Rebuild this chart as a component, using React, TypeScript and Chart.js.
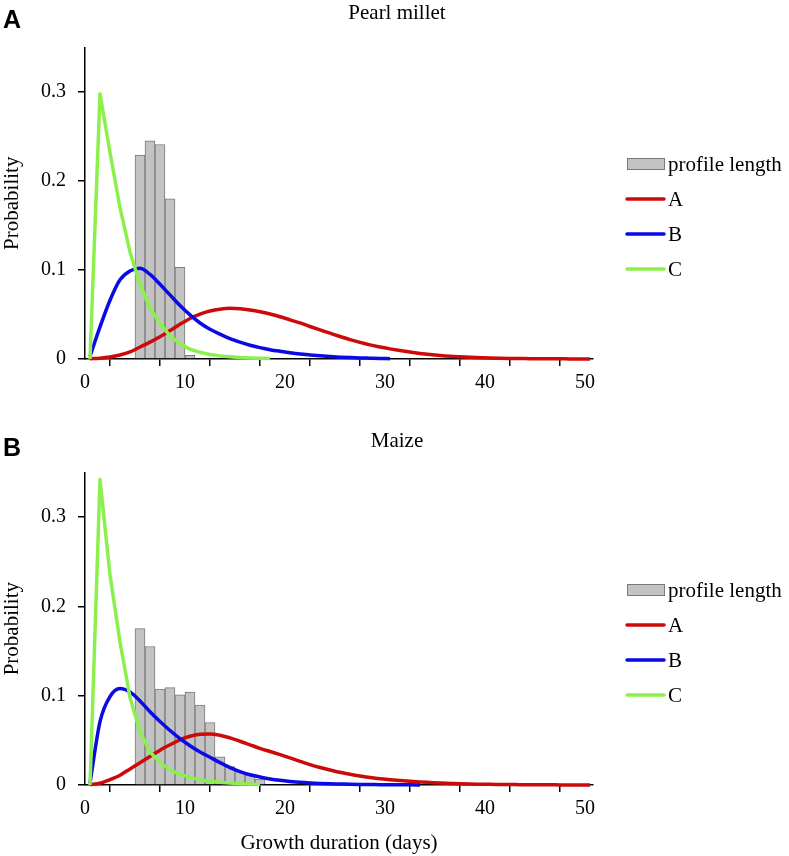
import React, { useEffect, useRef } from 'react';
import { Chart, registerables } from 'chart.js';

Chart.register(...registerables);

// ---------- data ----------
const DURATION_DAYS = [
  0.5, 1.5, 2.5, 3.5, 4.5, 5.5, 6.5, 7.5, 8.5, 9.5,
  10.5, 11.5, 12.5, 13.5, 14.5, 15.5, 16.5, 17.5, 18.5, 19.5,
  20.5, 21.5, 22.5, 23.5, 24.5, 25.5, 26.5, 27.5, 28.5, 29.5,
  30.5, 31.5, 32.5, 33.5, 34.5, 35.5, 36.5, 37.5, 38.5, 39.5,
  40.5, 41.5, 42.5, 43.5, 44.5, 45.5, 46.5, 47.5, 48.5, 49.5, 50.5,
];

const SERIES_LABELS = ['profile length', 'A', 'B', 'C'];
const Y_TICK_LABELS = ['0', '0.1', '0.2', '0.3'];
const X_TICK_LABELS = ['0', '10', '20', '30', '40', '50'];

// Pearl millet
const MILLET_BINS = [5.5, 6.5, 7.5, 8.5, 9.5, 10.5];
const MILLET_PROFILE = [0.229, 0.245, 0.241, 0.18, 0.103, 0.004];
const MILLET_A = [
  0.0003, 0.0009, 0.0022, 0.0045, 0.008, 0.0135, 0.019, 0.025, 0.032, 0.039,
  0.0455, 0.0505, 0.054, 0.056, 0.057, 0.0565, 0.055, 0.053, 0.0505, 0.0475,
  0.044, 0.0405, 0.0365, 0.0327, 0.029, 0.0253, 0.0218, 0.0187, 0.0159, 0.0135,
  0.0114, 0.0095, 0.0078, 0.0063, 0.005, 0.0039, 0.003, 0.0024, 0.0019, 0.0015,
  0.0011, 0.0008, 0.0006, 0.0005, 0.0004, 0.0003, 0.0002, 0.0002, 0.0001, 0.0001, 0.0001,
];
const MILLET_B = [
  0.003, 0.036, 0.066, 0.089, 0.099, 0.102, 0.095, 0.084, 0.072, 0.06,
  0.0495, 0.0405, 0.0335, 0.028, 0.023, 0.019, 0.0155, 0.0128, 0.0105, 0.0087,
  0.0071, 0.0057, 0.0046, 0.0036, 0.0028, 0.0021, 0.0016, 0.0012, 0.0009, 0.0006, 0.0004,
];
const MILLET_C = [
  0, 0.298, 0.232, 0.17, 0.12, 0.084, 0.057, 0.04, 0.026, 0.017,
  0.011, 0.0075, 0.005, 0.0035, 0.0025, 0.0017, 0.0012, 0.0008, 0.0005,
];

// Maize
const MAIZE_BINS = [5.5, 6.5, 7.5, 8.5, 9.5, 10.5, 11.5, 12.5, 13.5, 14.5, 15.5, 16.5, 17.5];
const MAIZE_PROFILE = [0.175, 0.155, 0.1075, 0.109, 0.101, 0.104, 0.0895, 0.07, 0.0315, 0.0206, 0.015, 0.011, 0.0065];
const MAIZE_A = [
  0.0005, 0.002, 0.006, 0.011, 0.018, 0.025, 0.032, 0.039, 0.045, 0.0505,
  0.0545, 0.0568, 0.0572, 0.0557, 0.0527, 0.049, 0.045, 0.041, 0.0375, 0.034,
  0.0303, 0.0265, 0.0228, 0.0196, 0.0168, 0.0142, 0.012, 0.0101, 0.0085, 0.0071,
  0.006, 0.005, 0.0041, 0.0034, 0.0028, 0.0022, 0.0018, 0.0014, 0.0011, 0.0009,
  0.0007, 0.0006, 0.0005, 0.0004, 0.0003, 0.0002, 0.0002, 0.0001, 0.0001, 0.0001, 0.0001,
];
const MAIZE_B = [
  0.002, 0.071, 0.099, 0.108, 0.104, 0.094, 0.082, 0.071, 0.061, 0.052,
  0.044, 0.037, 0.031, 0.025, 0.0195, 0.015, 0.0115, 0.009, 0.0068, 0.0052,
  0.004, 0.003, 0.0023, 0.0018, 0.0014, 0.0011, 0.0008, 0.0006, 0.0005, 0.0004,
  0.0003, 0.0002, 0.0002, 0.0001,
];
const MAIZE_C = [
  0, 0.342, 0.235, 0.16, 0.098, 0.06, 0.037, 0.025, 0.017, 0.012,
  0.0085, 0.006, 0.0042, 0.003, 0.0021, 0.0015, 0.001, 0.0007,
];

// ---------- styles ----------
const SERIF = "'Liberation Serif', 'Times New Roman', Times, serif";
const SANS = "'Liberation Sans', Arial, Helvetica, sans-serif";
const RED = '#cc0a0a';
const BLUE = '#0a0ae6';
const GREEN = '#8cf04c';
const BAR_FILL = '#c3c3c3';
const BAR_EDGE = '#7a7a7a';

const W = 789;
const H = 428;

type PanelProps = {
  letter: string;
  title: string;
  bins: number[];
  profile: number[];
  a: number[];
  b: number[];
  c: number[];
  padTop: number;
  xAxisHeight: number;
  showXTitle: boolean;
};

const toPoints = (vals: number[]) => vals.map((v, i) => ({ x: DURATION_DAYS[i], y: v }));

function Panel(props: PanelProps) {
  const ref = useRef<HTMLCanvasElement | null>(null);

  useEffect(() => {
    const canvas = ref.current;
    if (!canvas) return;

    const overlay = {
      id: 'overlay',
      afterDraw(chart: any) {
        const ctx = chart.ctx as CanvasRenderingContext2D;
        const area = chart.chartArea;
        ctx.save();
        ctx.fillStyle = '#000';
        // panel letter
        ctx.font = `bold 25px ${SANS}`;
        ctx.textAlign = 'left';
        ctx.textBaseline = 'alphabetic';
        ctx.fillText(props.letter, 3, 28);
        // panel title
        ctx.font = `21px ${SERIF}`;
        ctx.textAlign = 'center';
        ctx.fillText(props.title, 397, 19);
        // legend
        const ds = chart.data.datasets;
        const order = [3, 2, 1, 0]; // profile length, A, B, C
        const x0 = area.right + 34;
        const x1 = area.right + 72;
        let y = area.bottom - 195;
        ctx.font = `21px ${SERIF}`;
        ctx.textAlign = 'left';
        ctx.textBaseline = 'middle';
        for (const idx of order) {
          const d = ds[idx];
          if (d.type === 'bar') {
            ctx.fillStyle = d.backgroundColor;
            ctx.fillRect(x0, y - 6, x1 - x0, 12);
            ctx.strokeStyle = d.borderColor;
            ctx.lineWidth = 1;
            ctx.strokeRect(x0 + 0.5, y - 5.5, x1 - x0 - 1, 11);
          } else {
            ctx.strokeStyle = d.borderColor;
            ctx.lineWidth = 3.5;
            ctx.lineCap = 'round';
            ctx.beginPath();
            ctx.moveTo(x0, y);
            ctx.lineTo(x1 - 1, y);
            ctx.stroke();
          }
          ctx.fillStyle = '#000';
          ctx.fillText(d.label, x1 + 3, y + 1);
          y += 35;
        }
        ctx.restore();
      },
    };

    const lineDs = (label: string, vals: number[], color: string, smooth: boolean) =>
      ({
        type: 'line',
        label,
        data: toPoints(vals),
        borderColor: color,
        borderWidth: 3.5,
        borderJoinStyle: 'round',
        pointRadius: 0,
        tension: smooth ? 0.4 : 0,
        cubicInterpolationMode: smooth ? 'monotone' : 'default',
        fill: false,
        clip: false,
      }) as any;

    const chart = new Chart(canvas, {
      type: 'bar',
      data: {
        datasets: [
          lineDs(SERIES_LABELS[3], props.c, GREEN, false),
          lineDs(SERIES_LABELS[2], props.b, BLUE, true),
          lineDs(SERIES_LABELS[1], props.a, RED, true),
          {
            type: 'bar',
            label: SERIES_LABELS[0],
            data: props.bins.map((x, i) => ({ x, y: props.profile[i] })),
            backgroundColor: BAR_FILL,
            borderColor: BAR_EDGE,
            borderWidth: 1,
            barPercentage: 1,
            categoryPercentage: 1,
          } as any,
        ],
      },
      options: {
        responsive: false,
        animation: false,
        events: [],
        layout: { padding: { left: 0, right: W - 593, top: props.padTop, bottom: 0 } },
        plugins: {
          legend: { display: false },
          tooltip: { enabled: false },
          title: { display: false },
        },
        scales: {
          x: {
            type: 'linear',
            min: 0,
            max: 50.8,
            offset: false,
            grid: {
              display: true,
              drawOnChartArea: false,
              drawTicks: true,
              tickLength: 7,
              color: '#000',
              lineWidth: 1.5,
            },
            border: { display: true, color: '#000', width: 1.5 },
            ticks: {
              stepSize: 5,
              includeBounds: false,
              autoSkip: false,
              maxRotation: 0,
              padding: 5,
              color: '#000',
              font: { family: SERIF, size: 20 },
              callback: (v: any) => {
                const s = String(v);
                return X_TICK_LABELS.includes(s) ? s : '';
              },
            },
            title: {
              display: props.showXTitle,
              text: 'Growth duration (days)',
              color: '#000',
              font: { family: SERIF, size: 21 },
              padding: { top: 0, bottom: 0 },
            },
            afterFit: (s: any) => {
              s.height = props.xAxisHeight;
            },
          },
          y: {
            type: 'linear',
            min: 0,
            max: 0.35,
            grid: {
              display: true,
              drawOnChartArea: false,
              drawTicks: true,
              tickLength: 7,
              color: '#000',
              lineWidth: 1.5,
            },
            border: { display: true, color: '#000', width: 1.5 },
            ticks: {
              stepSize: 0.1,
              includeBounds: false,
              padding: 12,
              color: '#000',
              font: { family: SERIF, size: 20 },
              callback: (v: any) => Y_TICK_LABELS[Math.round(Number(v) * 10)] ?? '',
            },
            title: {
              display: true,
              text: 'Probability',
              color: '#000',
              font: { family: SERIF, size: 21 },
              padding: { top: 0, bottom: 0 },
            },
            afterFit: (s: any) => {
              s.width = 85;
            },
          },
        },
      } as any,
      plugins: [overlay],
    });

    return () => chart.destroy();
  }, []);

  return <canvas ref={ref} width={W} height={H} style={{ display: 'block', width: W, height: H }} />;
}

export default function App() {
  return (
    <div style={{ position: 'absolute', left: 0, top: 0, width: W, height: 856, background: '#fff' }}>
      <Panel
        letter="A"
        title="Pearl millet"
        bins={MILLET_BINS}
        profile={MILLET_PROFILE}
        a={MILLET_A}
        b={MILLET_B}
        c={MILLET_C}
        padTop={47.5}
        xAxisHeight={H - 359}
        showXTitle={false}
      />
      <Panel
        letter="B"
        title="Maize"
        bins={MAIZE_BINS}
        profile={MAIZE_PROFILE}
        a={MAIZE_A}
        b={MAIZE_B}
        c={MAIZE_C}
        padTop={44.3}
        xAxisHeight={H - 357}
        showXTitle={true}
      />
    </div>
  );
}
